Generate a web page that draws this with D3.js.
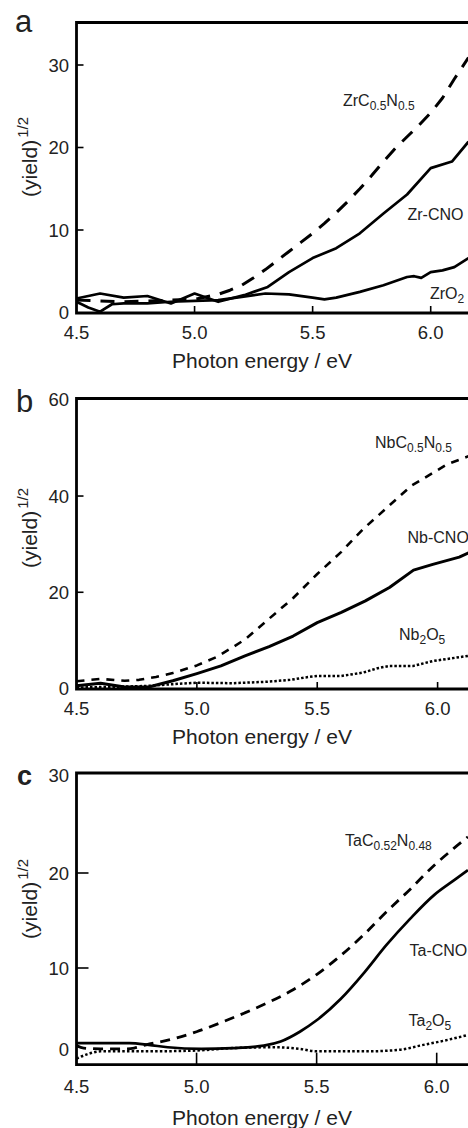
<!DOCTYPE html>
<html>
<head>
<meta charset="utf-8">
<script src="https://cdn.jsdelivr.net/npm/d3@7"></script>
<style>
body{margin:0;background:#fff;}
svg{display:block;font-family:"Liberation Sans",Arial,sans-serif;}
</style>
</head>
<body>
<div id="chart"></div>
<script>
// panel a : Zr
var zrcnE  = [4.50,4.60,4.70,4.80,4.90,5.00,5.10,5.15,5.20,5.25,5.30,5.35,5.40,5.45,5.50,5.55,5.60,5.65,5.70,5.75,5.80,5.85,5.90,5.95,6.00,6.05,6.10,6.16];
var zrcnY  = [1.5,1.4,1.3,1.4,1.5,1.6,2.2,2.7,3.3,4.2,5.2,6.3,7.4,8.5,9.6,10.8,12.1,13.5,15.0,16.6,18.3,19.9,21.3,22.7,24.2,26.0,28.3,30.9];
var zrcnoE = [4.50,4.60,4.70,4.80,4.90,5.00,5.10,5.21,5.31,5.40,5.50,5.60,5.70,5.80,5.90,6.00,6.09,6.16];
var zrcnoY = [1.7,2.3,1.8,2.0,1.1,2.3,1.3,2.1,3.1,4.9,6.6,7.8,9.6,12.0,14.3,17.5,18.3,20.7];
var zro2E  = [4.50,4.55,4.60,4.65,4.70,4.80,4.90,5.00,5.10,5.20,5.30,5.40,5.50,5.55,5.60,5.70,5.80,5.90,5.93,5.96,6.00,6.05,6.10,6.16];
var zro2Y  = [1.3,0.6,0.1,1.0,1.1,1.1,1.3,1.4,1.5,1.9,2.3,2.2,1.8,1.6,1.8,2.5,3.3,4.3,4.4,4.2,4.9,5.1,5.5,6.6];

// panel b : Nb
var nbcnE  = [4.50,4.60,4.70,4.76,4.83,4.90,5.00,5.08,5.15,5.20,5.30,5.40,5.50,5.60,5.69,5.79,5.89,5.97,6.04,6.13];
var nbcnY  = [1.5,2.0,1.6,1.8,2.4,3.2,4.8,6.5,8.6,10.2,14.5,18.8,23.8,28.4,33.1,37.6,42.1,44.5,46.6,48.3];
var nbcnoE = [4.50,4.60,4.70,4.80,4.90,5.00,5.10,5.20,5.30,5.40,5.50,5.60,5.70,5.80,5.90,5.98,6.09,6.13];
var nbcnoY = [0.55,1.1,0.3,0.3,1.6,3.1,4.7,6.8,8.7,10.9,13.7,15.8,18.2,21.0,24.6,25.8,27.3,28.2];
var nb2o5E = [4.50,4.60,4.70,4.80,4.90,5.00,5.15,5.29,5.39,5.45,5.50,5.60,5.69,5.75,5.80,5.90,5.98,6.13];
var nb2o5Y = [0.2,0.3,0.4,0.55,0.9,1.2,1.1,1.4,1.8,2.3,2.6,2.6,3.3,4.2,4.7,4.7,5.7,6.8];

// panel c : Ta
var tacnE  = [4.50,4.53,4.60,4.70,4.74,4.79,4.90,5.00,5.10,5.20,5.30,5.40,5.50,5.60,5.70,5.79,5.89,5.99,6.07,6.13];
var tacnY  = [0.5,0.2,0.1,0.1,0.2,0.6,1.3,2.2,3.3,4.5,5.8,7.3,9.2,11.3,13.6,15.9,18.3,20.8,22.5,23.7];
var tacnoE = [4.50,4.60,4.72,4.80,4.88,5.02,5.15,5.28,5.35,5.43,5.50,5.60,5.70,5.79,5.89,5.99,6.07,6.13];
var tacnoY = [0.8,0.8,0.8,0.6,0.3,0.1,0.2,0.5,1.0,2.2,3.6,6.2,9.5,12.4,15.2,17.7,19.2,20.3];
var ta2o5E = [4.50,4.55,4.60,4.70,4.80,5.00,5.15,5.33,5.43,5.50,5.60,5.71,5.85,5.93,6.03,6.13];
var ta2o5Y = [-1.1,-0.5,-0.2,-0.2,-0.2,-0.1,0.2,0.3,0.1,-0.2,-0.2,-0.2,0.0,0.5,1.1,1.8];

var xTicks = [4.5, 5.0, 5.5, 6.0];
var yTicksA = [0, 10, 20, 30];
var yTicksB = [0, 20, 40, 60];
var yTicksC = [0, 10, 20, 30];

var svgWidth = 468, svgHeight = 1128;
var ink = "#222";

var svg = d3.select("#chart")
    .append("svg")
    .attr("width", svgWidth)
    .attr("height", svgHeight);

function zip(e, y) {
    return e.map(function (d, i) { return [d, y[i]]; });
}

var panels = [
  {
    letter: "a", letterX: 15, letterY: 32, letterSize: 31, letterWeight: "normal",
    top: 22.5, bottom: 313, left: 76.5,
    xRange: [76.5, 430.7],
    yDomain: [0, 30], yRange: [312.5, 65],
    yTicks: yTicksA, tickLen: 7,
    tickLabelY: 339, titleY: 368, yTitleStart: 197,
    series: [
      {data: zip(zrcnE, zrcnY), dash: "14,10", w: 3},
      {data: zip(zrcnoE, zrcnoY), dash: null, w: 2.7},
      {data: zip(zro2E, zro2Y), dash: null, w: 2.7}
    ],
    labels: [
      {x: 343, y: 105.5, parts: [["ZrC",0],["0.5",1],["N",0],["0.5",1]]},
      {x: 407.5, y: 220, parts: [["Zr-CNO",0]]},
      {x: 430, y: 298.5, parts: [["ZrO",0],["2",1]]}
    ]
  },
  {
    letter: "b", letterX: 16, letterY: 412, letterSize: 31, letterWeight: "normal",
    top: 398.5, bottom: 689, left: 76.5,
    xRange: [76.5, 437.6],
    yDomain: [0, 60], yRange: [688.5, 399.8],
    yTicks: yTicksB, tickLen: 7,
    tickLabelY: 715, titleY: 744, yTitleStart: 568,
    series: [
      {data: zip(nbcnE, nbcnY), dash: "8,7", w: 2.6},
      {data: zip(nbcnoE, nbcnoY), dash: null, w: 3},
      {data: zip(nb2o5E, nb2o5Y), dash: "2.5,2", w: 2.5}
    ],
    labels: [
      {x: 375, y: 447.5, parts: [["NbC",0],["0.5",1],["N",0],["0.5",1]]},
      {x: 407.5, y: 542.5, parts: [["Nb-CNO",0]]},
      {x: 399, y: 639.5, parts: [["Nb",0],["2",1],["O",0],["5",1]]}
    ]
  },
  {
    letter: "c", letterX: 17, letterY: 785, letterSize: 27, letterWeight: "bold",
    top: 773, bottom: 1064.7, left: 76.5,
    xRange: [76.5, 436.7],
    yDomain: [0, 10, 20, 30], yRange: [1049.7, 968, 873, 775.3],
    yTicks: yTicksC, tickLen: 12,
    tickLabelY: 1093, titleY: 1125, yTitleStart: 939,
    series: [
      {data: zip(tacnE, tacnY), dash: "10,7", w: 2.8, smooth: true},
      {data: zip(tacnoE, tacnoY), dash: null, w: 2.7, smooth: true},
      {data: zip(ta2o5E, ta2o5Y), dash: "2.5,2.2", w: 2.5, smooth: true}
    ],
    labels: [
      {x: 345, y: 845.5, parts: [["TaC",0],["0.52",1],["N",0],["0.48",1]]},
      {x: 409.5, y: 956, parts: [["Ta-CNO",0]]},
      {x: 408.5, y: 1025.5, parts: [["Ta",0],["2",1],["O",0],["5",1]]}
    ]
  }
];

function drawPanel(p) {
    var g = svg.append("g");

    var xScale = d3.scaleLinear().domain([4.5, 6.0]).range(p.xRange);
    var yScale = d3.scaleLinear().domain(p.yDomain).range(p.yRange);

    // curves
    var line = d3.line()
        .x(function (d) { return xScale(d[0]); })
        .y(function (d) { return yScale(d[1]); })
        .curve(p.series[0].smooth ? d3.curveMonotoneX : d3.curveLinear);

    p.series.forEach(function (s) {
        g.append("path")
            .datum(s.data)
            .attr("d", line)
            .attr("fill", "none")
            .attr("stroke", "#000")
            .attr("stroke-width", s.w)
            .attr("stroke-linejoin", "round")
            .attr("stroke-dasharray", s.dash);
    });

    // frame (right side runs off the page)
    g.append("path")
        .attr("d", "M" + (svgWidth + 20) + "," + p.top + "H" + p.left + "V" + p.bottom + "H" + (svgWidth + 20))
        .attr("fill", "none")
        .attr("stroke", "#000")
        .attr("stroke-width", 2.8);

    // inward ticks
    g.selectAll(".xt")
        .data(xTicks.slice(1))
        .enter()
        .append("line")
        .attr("x1", function (d) { return xScale(d); })
        .attr("x2", function (d) { return xScale(d); })
        .attr("y1", p.bottom)
        .attr("y2", p.bottom - p.tickLen)
        .attr("stroke", "#000")
        .attr("stroke-width", 1.6);

    g.selectAll(".yt")
        .data(p.yTicks.filter(function (d) { return d > 0 && yScale(d) > p.top + 4; }))
        .enter()
        .append("line")
        .attr("x1", p.left)
        .attr("x2", p.left + p.tickLen)
        .attr("y1", function (d) { return yScale(d); })
        .attr("y2", function (d) { return yScale(d); })
        .attr("stroke", "#000")
        .attr("stroke-width", 1.6);

    // tick labels
    g.selectAll(".xl")
        .data(xTicks)
        .enter()
        .append("text")
        .attr("x", function (d) { return xScale(d); })
        .attr("y", p.tickLabelY)
        .attr("text-anchor", "middle")
        .style("font-size", "18.5px")
        .style("fill", ink)
        .text(function (d) { return d3.format(".1f")(d); });

    g.selectAll(".yl")
        .data(p.yTicks)
        .enter()
        .append("text")
        .attr("x", 69)
        .attr("y", function (d) { return yScale(d); })
        .attr("dy", "0.36em")
        .attr("text-anchor", "end")
        .style("font-size", "18.5px")
        .style("fill", ink)
        .text(function (d) { return d; });

    // axis titles
    g.append("text")
        .attr("x", 262)
        .attr("y", p.titleY)
        .attr("text-anchor", "middle")
        .style("font-size", "21px")
        .style("fill", ink)
        .text("Photon energy / eV");

    var yt = g.append("text")
        .attr("transform", "translate(37," + p.yTitleStart + ") rotate(-90)")
        .style("font-size", "21px")
        .style("fill", ink);
    yt.append("tspan").text("(yield)");
    yt.append("tspan").attr("dx", 2).attr("dy", -9).style("font-size", "15px").text("1/2");

    // panel letter
    g.append("text")
        .attr("x", p.letterX)
        .attr("y", p.letterY)
        .style("font-size", p.letterSize + "px")
        .style("font-weight", p.letterWeight)
        .style("fill", ink)
        .text(p.letter);

    // series labels with subscripts
    p.labels.forEach(function (lab) {
        var t = g.append("text")
            .attr("x", lab.x)
            .attr("y", lab.y)
            .style("font-size", "16px")
            .style("fill", ink);
        var prevSub = 0;
        lab.parts.forEach(function (part) {
            var dy = part[1] ? (prevSub ? 0 : 4) : (prevSub ? -4 : 0);
            t.append("tspan")
                .attr("dy", dy)
                .style("font-size", part[1] ? "12px" : "16px")
                .text(part[0]);
            prevSub = part[1];
        });
    });
}

panels.forEach(drawPanel);
</script>
</body>
</html>
